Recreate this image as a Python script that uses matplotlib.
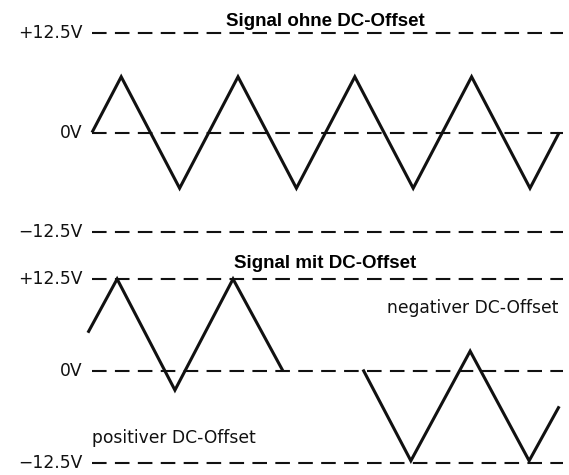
import matplotlib.pyplot as plt
from matplotlib.transforms import blended_transform_factory

# Eckpunkte der Dreieckssignale (t in Viertelperioden, u in Volt)
t_ohne = [0, 1, 3, 5, 7, 9, 11, 13, 15, 16]
u_ohne = [0, 7, -7, 7, -7, 7, -7, 7, -7, 0]

t_pos = [-0.14, 0.86, 2.84, 4.83, 6.54]
u_pos = [5.2, 12.5, -2.6, 12.5, 0]

t_neg = [9.28, 10.92, 12.95, 14.97, 16.0]
u_neg = [0.2, -12.2, 2.7, -12.2, -4.8]

ref_levels = [12.5, 0, -12.5]
ref_labels = ["+12.5V", "0V", "\u221212.5V"]

titles = ["Signal ohne DC-Offset", "Signal mit DC-Offset"]
offset_labels = ["negativer DC-Offset", "positiver DC-Offset"]

W, H = 569, 475
fig = plt.figure(figsize=(W / 100, H / 100), dpi=100)

x0, x1 = 92, 563
ax_top = fig.add_axes([x0 / W, (H - 232) / H, (x1 - x0) / W, 199 / H])
ax_bot = fig.add_axes([x0 / W, (H - 463) / H, (x1 - x0) / W, 184 / H])

for ax in (ax_top, ax_bot):
    ax.set_xlim(0, 16.13)
    ax.set_ylim(-12.5, 12.5)
    ax.axis("off")
    trans = blended_transform_factory(ax.transAxes, ax.transData)
    for lvl, lab in zip(ref_levels, ref_labels):
        ax.axhline(lvl, color="#111111", lw=1.5, ls=(0, (7, 4)),
                   clip_on=False, zorder=1)
        ax.text(-0.02, lvl, lab, transform=trans, ha="right", va="center",
                fontsize=12.3, family="DejaVu Sans", color="#111111")

wave = dict(color="#111111", lw=2.2, solid_joinstyle="miter",
            solid_capstyle="butt", clip_on=False, zorder=3)
ax_top.plot(t_ohne, u_ohne, **wave)
ax_bot.plot(t_pos, u_pos, **wave)
ax_bot.plot(t_neg, u_neg, **wave)

fig.text(325 / W, 1 - 26 / H, titles[0], ha="center", va="baseline",
         fontsize=13.5, fontweight="bold", family="Liberation Sans")
fig.text(325 / W, 1 - 268 / H, titles[1], ha="center", va="baseline",
         fontsize=13.5, fontweight="bold", family="Liberation Sans")

fig.text(558 / W, 1 - 308 / H, offset_labels[0], ha="right", va="center",
         fontsize=12.3, family="DejaVu Sans", color="#111111")
fig.text(92 / W, 1 - 438 / H, offset_labels[1], ha="left", va="center",
         fontsize=12.3, family="DejaVu Sans", color="#111111")

fig.savefig("out.png", dpi=100, facecolor="white")
